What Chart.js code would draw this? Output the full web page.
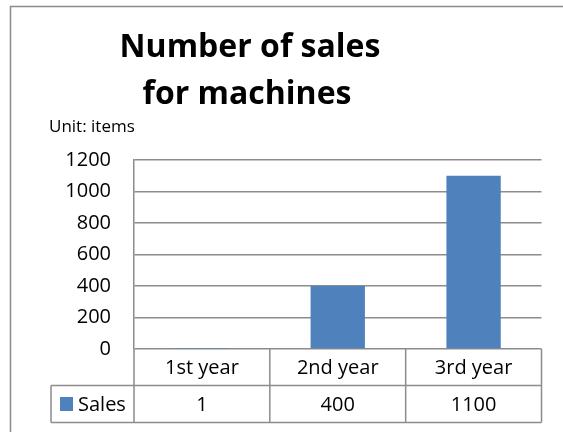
<!DOCTYPE html>
<html>
<head>
<meta charset="utf-8">
<script src="https://cdn.jsdelivr.net/npm/chart.js@4"></script>
<style>
html,body{margin:0;padding:0;background:#fff;overflow:hidden;}
#wrap{width:563px;height:432px;position:relative;overflow:hidden;}
canvas{display:block;}
</style>
</head>
<body>
<div id="wrap"><canvas id="c" width="563" height="432"></canvas></div>
<script>
const titleLines = ["Number of sales", "for machines"];
const unitLabel = "Unit: items";
const categories = ["1st year", "2nd year", "3rd year"];
const seriesName = "Sales";
const salesValues = [1, 400, 1100];
const yTicks = [0, 200, 400, 600, 800, 1000, 1200];

const FONT = "'Open Sans', Lato, sans-serif";
const LINE = "#8c8c8c";
const BAR = "#4F81BD";

const decorPlugin = {
  id: 'decor',
  afterDraw(chart) {
    const ctx = chart.ctx;
    const xs = chart.scales.x;
    const ys = chart.scales.y;
    const top = ys.getPixelForValue(0);
    const rowH = 36.5;
    const r1 = top + rowH, r2 = top + 2 * rowH + 0.5;
    const legendLeft = 51;
    const n = categories.length;
    const half = (xs.getPixelForValue(1) - xs.getPixelForValue(0)) / 2;
    ctx.save();
    // outer border (only top and left are inside the picture)
    ctx.strokeStyle = LINE;
    ctx.lineWidth = 1.5;
    ctx.beginPath();
    ctx.moveTo(10.5, 432); ctx.lineTo(10.5, 6.5); ctx.lineTo(563, 6.5);
    ctx.stroke();
    ctx.beginPath();
    // horizontal table lines
    ctx.moveTo(legendLeft, r1); ctx.lineTo(xs.right, r1);
    ctx.moveTo(legendLeft, r2); ctx.lineTo(xs.right, r2);
    ctx.moveTo(legendLeft, r1); ctx.lineTo(legendLeft, r2);
    // vertical separators
    for (let i = 0; i <= n; i++) {
      const x = i < n ? xs.getPixelForValue(i) - half : xs.getPixelForValue(n - 1) + half;
      ctx.moveTo(x, top); ctx.lineTo(x, r2);
    }
    ctx.stroke();
    // texts
    ctx.fillStyle = "#000";
    ctx.textAlign = "center";
    ctx.textBaseline = "middle";
    ctx.font = "20px " + FONT;
    for (let i = 0; i < n; i++) {
      const cx = xs.getPixelForValue(i);
      ctx.fillText(categories[i], cx, (top + r1) / 2 + 1);
      ctx.fillText(String(salesValues[i]), cx, (r1 + r2) / 2 + 1);
    }
    // legend key
    ctx.fillStyle = BAR;
    ctx.fillRect(60, 397, 13, 14);
    ctx.fillStyle = "#000";
    ctx.textAlign = "left";
    ctx.fillText(seriesName, 78, (r1 + r2) / 2 + 1);
    // title
    ctx.textAlign = "center";
    ctx.textBaseline = "alphabetic";
    ctx.font = "bold 32px " + FONT;
    ctx.fillText(titleLines[0], 250, 57);
    ctx.fillText(titleLines[1], 247, 104);
    // unit
    ctx.textAlign = "left";
    ctx.font = "17px " + FONT;
    ctx.fillText(unitLabel, 49, 132);
    ctx.restore();
  }
};

new Chart(document.getElementById('c'), {
  type: 'bar',
  data: {
    labels: categories,
    datasets: [{
      label: seriesName,
      data: salesValues,
      backgroundColor: BAR,
      borderWidth: 0,
      categoryPercentage: 0.8,
      barPercentage: 0.5
    }]
  },
  options: {
    responsive: false,
    animation: false,
    devicePixelRatio: 1,
    layout: { padding: { top: 160, left: 0, right: 21.5, bottom: 83 } },
    plugins: { legend: { display: false }, title: { display: false }, tooltip: { enabled: false } },
    scales: {
      x: { display: false, offset: true },
      y: {
        min: 0, max: 1200,
        afterFit(s) { s.width = 134; },
        afterBuildTicks(s) { s.ticks = yTicks.map(v => ({ value: v })); },
        ticks: { color: "#000", font: { family: FONT, size: 20 }, padding: 23, callback: v => String(v) },
        grid: { color: LINE, lineWidth: 1.5, drawTicks: false },
        border: { display: true, color: LINE, width: 1.5 }
      }
    }
  },
  plugins: [decorPlugin]
});
</script>
</body>
</html>
